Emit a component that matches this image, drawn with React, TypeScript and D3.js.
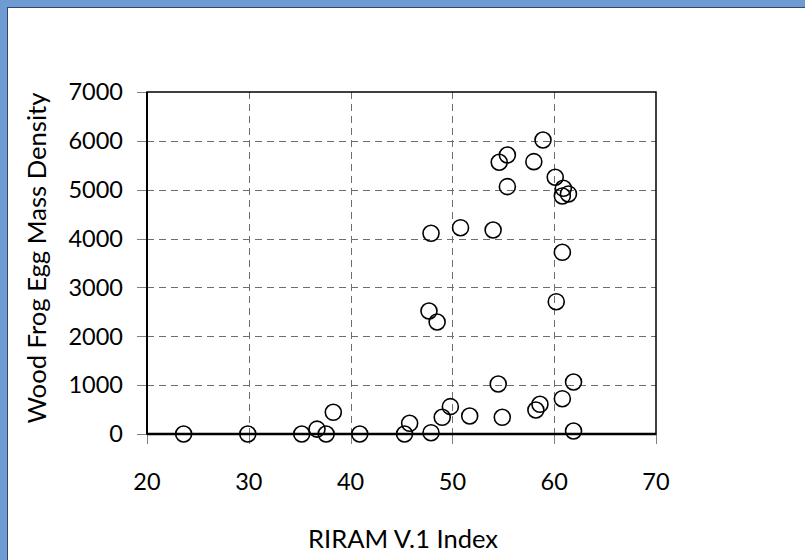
import React from 'react';
import * as d3 from 'd3';

// RIRAM index vs wood frog egg mass density
const riram = [
  23.6, 29.9, 35.2, 36.7, 37.6, 38.3, 40.9, 45.3, 45.8, 47.7,
  48.5, 47.9, 49.0, 49.8, 51.7, 54.5, 54.9, 58.2, 58.6, 60.2,
  60.8, 61.9, 61.9, 47.9, 50.8, 54.0, 58.9, 55.4, 54.6, 58.0,
  60.1, 55.4, 60.9, 61.4, 60.8, 60.8,
];
const eggDensity = [
  0, 0, 0, 100, 0, 444, 0, 0, 219, 2518,
  2293, 27, 342, 560, 368, 1023, 342, 491, 608, 2708,
  723, 1064, 61, 4108, 4223, 4176, 6018, 5711, 5562, 5574,
  5255, 5063, 5029, 4913, 4872, 3719,
];
const xTicks = [20, 30, 40, 50, 60, 70];
const yTicks = [0, 1000, 2000, 3000, 4000, 5000, 6000, 7000];

const W = 805;
const H = 560;
const font = 'Lato, "Open Sans", sans-serif';

export default function App() {
  const x = d3.scaleLinear().domain([20, 70]).range([147, 656]);
  const y = d3.scaleLinear().domain([0, 7000]).range([434, 92]);
  const pts = riram.map((v, i) => ({ v, d: eggDensity[i] }));

  return (
    <svg width={W} height={H} style={{ position: 'absolute', left: 0, top: 0 }}
      fontFamily={font}>
      <rect x={0} y={0} width={W} height={H} fill="#6d9bd2" />
      <rect x={7.5} y={7.5} width={W} height={H} fill="#fff" stroke="#34466a" strokeWidth={1} />

      {/* grid */}
      {xTicks.slice(1, -1).map(t => (
        <line key={'gx' + t} x1={Math.round(x(t)) + 0.5} x2={Math.round(x(t)) + 0.5}
          y1={y(7000)} y2={y(0)} stroke="#6e6e6e" strokeDasharray="7,5" />
      ))}
      {yTicks.slice(1, -1).map(t => (
        <line key={'gy' + t} x1={x(20)} x2={x(70)}
          y1={Math.round(y(t)) + 0.5} y2={Math.round(y(t)) + 0.5}
          stroke="#6e6e6e" strokeDasharray="7,5" />
      ))}

      {/* ticks */}
      {yTicks.map(t => (
        <line key={'ty' + t} x1={x(20) - 10} x2={x(20)} y1={Math.round(y(t)) + 0.5}
          y2={Math.round(y(t)) + 0.5} stroke="#808080" />
      ))}
      {xTicks.map(t => (
        <line key={'tx' + t} x1={Math.round(x(t)) + 0.5} x2={Math.round(x(t)) + 0.5}
          y1={y(0)} y2={y(0) + 10} stroke="#808080" />
      ))}

      {/* plot frame */}
      <rect x={x(20)} y={y(7000)} width={x(70) - x(20)} height={y(0) - y(7000)}
        fill="none" stroke="#000" strokeWidth={1.5} />
      <line x1={x(20)} x2={x(20)} y1={y(7000)} y2={y(0)} stroke="#000" strokeWidth={2} />
      <line x1={x(20)} x2={x(70)} y1={y(0)} y2={y(0)} stroke="#000" strokeWidth={2.5} />

      {/* points */}
      {pts.map((p, i) => (
        <circle key={i} cx={x(p.v)} cy={y(p.d)} r={8} fill="none"
          stroke="#000" strokeWidth={1.6} />
      ))}

      {/* tick labels */}
      {yTicks.map(t => (
        <text key={'ly' + t} x={123} y={y(t)} dy="0.35em" textAnchor="end"
          fontSize={23.5} fill="#000">{t}</text>
      ))}
      {xTicks.map(t => (
        <text key={'lx' + t} x={x(t)} y={490} textAnchor="middle"
          fontSize={23.5} fill="#000">{t}</text>
      ))}

      {/* axis titles */}
      <text x={403} y={548} textAnchor="middle" fontSize={25}
        textLength={190} lengthAdjust="spacingAndGlyphs" fill="#000">RIRAM V.1 Index</text>
      <text transform="translate(46,258) rotate(-90)" textAnchor="middle" fontSize={25}
        textLength={331} lengthAdjust="spacingAndGlyphs" fill="#000">Wood Frog Egg Mass Density</text>
    </svg>
  );
}
